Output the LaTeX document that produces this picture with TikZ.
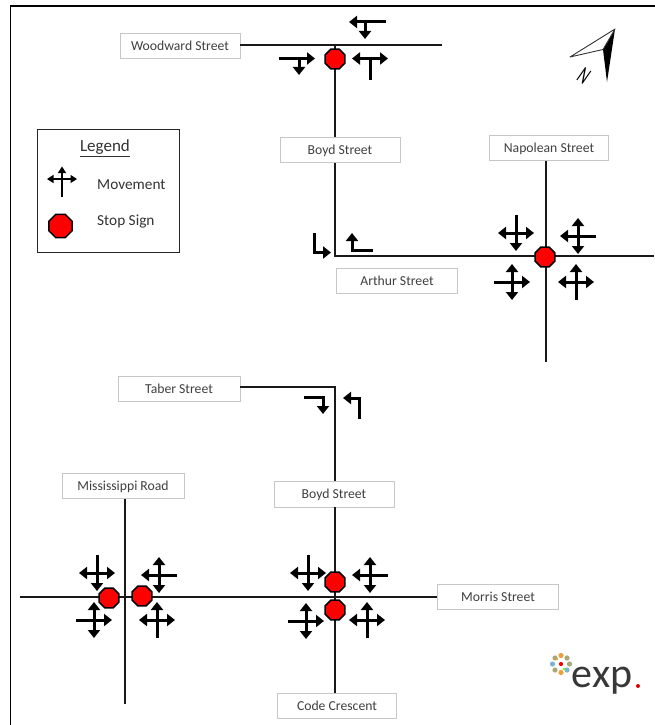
\documentclass[tikz,border=0pt]{standalone}
\usepackage{fontspec}
\setmainfont{Carlito}
\usetikzlibrary{arrows.meta,shapes.geometric}
\definecolor{petalA}{HTML}{A8A878}
\definecolor{petalB}{HTML}{7FB2CC}
\definecolor{petalC}{HTML}{E8A23C}
\tikzset{
  x=1pt,y=-1pt,
  road/.style={line width=1.8pt,black!90},
  arw/.style={line width=3pt,-{Triangle[length=8pt,width=12pt]}},
  stub/.style={line width=3pt},
  thinarw/.style={line width=1.3pt,-{Triangle[length=6.5pt,width=8pt]}},
  lbl/.style={draw=black!22,line width=0.9pt,fill=white,minimum height=25pt,inner sep=0pt,text=black!75,text height=9.6pt,text depth=0pt,font=\fontsize{13.7}{15}\selectfont},
  stop/.style={regular polygon,regular polygon sides=8,draw=black,line width=1.5pt,fill=red,minimum size=21.5pt,inner sep=0pt},
  legtxt/.style={font=\fontsize{15.3}{17}\selectfont,text=black!80,inner sep=0pt,anchor=west},
}
\newcommand\fourway[6]{% cx cy; styles of left, right, up, down arms
  \begin{scope}[shift={(#1,#2)}]
    \draw[#3] (0,0) -- (-18,0);
    \draw[#4] (0,0) -- (18,0);
    \draw[#5] (0,0) -- (0,-18);
    \draw[#6] (0,0) -- (0,18);
  \end{scope}}
\begin{document}
\begin{tikzpicture}
\useasboundingbox (0,0) rectangle (655,725);
\fill[white] (0,0) rectangle (655,725);
\draw[line width=1.7pt] (10.5,725) -- (10.5,6) -- (655,6);
% coordinates
\coordinate (wwE) at (442,45);
\coordinate (jWB) at (335,45);
\coordinate (jBA) at (335,256);
\coordinate (artE) at (654,256);
\coordinate (napN) at (546,163);
\coordinate (napS) at (546,362);
\coordinate (tabJ) at (335,387);
\coordinate (morW) at (20,597);
\coordinate (misS) at (125,704);
% labels
\node[lbl,minimum width=120pt] (woodward) at (180,46) {Woodward Street};
\node[lbl,minimum width=120pt] (boyd1) at (340,150) {Boyd Street};
\node[lbl,minimum width=119pt] (napolean) at (549,148) {Napolean Street};
\node[lbl,minimum width=121pt] (arthur) at (397,281) {Arthur Street};
\node[lbl,minimum width=122pt] (taber) at (179,389) {Taber Street};
\node[lbl,minimum width=122pt] (mississippi) at (123,486) {Mississippi Road};
\node[lbl,minimum width=120pt,minimum height=26pt] (boyd2) at (334,494) {Boyd Street};
\node[lbl,minimum width=121pt] (morris) at (498,597) {Morris Street};
\node[lbl,minimum width=119pt] (code) at (337,706) {Code Crescent};
% roads
\draw[road] (woodward.east |- wwE) -- (jWB) -- (wwE);
\draw[road] (jWB) -- (jWB |- boyd1.north);
\draw[road] (jWB |- boyd1.south) -- (jBA) -- (artE);
\draw[road] (napN |- napolean.south) -- (napS);
\draw[road] (taber.east |- tabJ) -- (tabJ) -- (tabJ |- boyd2.north);
\draw[road] (tabJ |- boyd2.south) -- (tabJ |- code.north);
\draw[road] (morW) -- (morris.west |- morW);
\draw[road] (misS |- mississippi.south) -- (misS);
% stop signs
\node[stop] (s1) at (335,59) {};
\node[stop] (s2) at (545,257) {};
\node[stop] (s3) at (109,598) {};
\node[stop] (s4) at (142,596) {};
\node[stop] (s5) at (335,582) {};
\node[stop] (s6) at (335,610) {};
% movement arrows
\fourway{516}{233}{arw}{arw}{stub}{arw}
\fourway{578}{236}{arw}{stub}{arw}{arw}
\fourway{512}{282}{stub}{arw}{arw}{arw}
\fourway{576}{282}{arw}{arw}{arw}{stub}
\fourway{97}{573}{arw}{arw}{stub}{arw}
\fourway{159}{575}{arw}{stub}{arw}{arw}
\fourway{94}{620}{stub}{arw}{arw}{arw}
\fourway{157}{620}{arw}{arw}{arw}{stub}
\fourway{308}{573}{arw}{arw}{stub}{arw}
\fourway{370}{575}{arw}{stub}{arw}{arw}
\fourway{306}{621}{stub}{arw}{arw}{arw}
\fourway{367}{620}{arw}{arw}{arw}{stub}
% T movements at Woodward
\draw[arw] (386,22) -- (349,22);
\draw[arw] (365,22) -- (365,39);
\draw[arw] (279,58.5) -- (315,58.5);
\draw[arw] (299,58.5) -- (299,75);
\draw[arw] (370,58.5) -- (352,58.5);
\draw[arw] (370,58.5) -- (388,58.5);
\draw[stub] (370,58.5) -- (370,80);
% L movements at Arthur
\draw[arw] (314,233) -- (314,252.5) -- (331,252.5);
\draw[arw] (373,250.5) -- (352,250.5) -- (352,233);
% Taber movements
\draw[arw] (304,397) -- (323,397) -- (323,414);
\draw[arw] (359.5,419) -- (359.5,398) -- (343,398);
% Legend
\node[draw=black!85,line width=0.9pt,minimum width=142pt,minimum height=123pt,inner sep=0pt] (legend) at (108,190.5) {};
\node[font=\fontsize{17}{19}\selectfont,text=black!80,inner sep=0pt] (legtitle) at (105,148.5) {\underline{Legend}};
\node[legtxt] (legmove) at (97,184.5) {Movement};
\node[legtxt] (legstop) at (97,222) {Stop Sign};
\begin{scope}[shift={(62,179)}]
\draw[thinarw] (0,0) -- (-15,0);
\draw[thinarw] (0,0) -- (15,0);
\draw[thinarw] (0,0) -- (0,-12.5);
\draw[line width=1.3pt] (0,0) -- (0,18);
\end{scope}
\node[stop,minimum size=25pt] (legsign) at (60.5,226) {};
% north arrow
\fill[black] (615,29) -- (603,49.5) -- (607,82) -- cycle;
\draw[line width=0.9pt,black!80,fill=white,line join=round] (615,29) -- (570,57) -- (603,49.5) -- cycle;
\node[font=\fontsize{24}{24}\selectfont,rotate=-35,xscale=0.62,inner sep=0pt] (northN) at (584,75.5) {N};
% logo
\foreach \a/\c in {0/petalA,45/petalB,90/petalC,135/petalA,180/petalB,225/petalA,270/petalC,315/petalA}{
  \fill[\c] (561,664)+(\a:8.5) circle (2.6);
}
\fill[red] (561,664) circle (2.1);
\fill[green!60!yellow] (564,669) circle (1.4);
\fill[petalC] (557,659) circle (1.4);
\node[font=\fontsize{42}{42}\selectfont,inner sep=0pt,text=black!78,anchor=base] (logo) at (602,687) {exp};
\fill[red!85!black] (638,686) circle (2);
\end{tikzpicture}
\end{document}
